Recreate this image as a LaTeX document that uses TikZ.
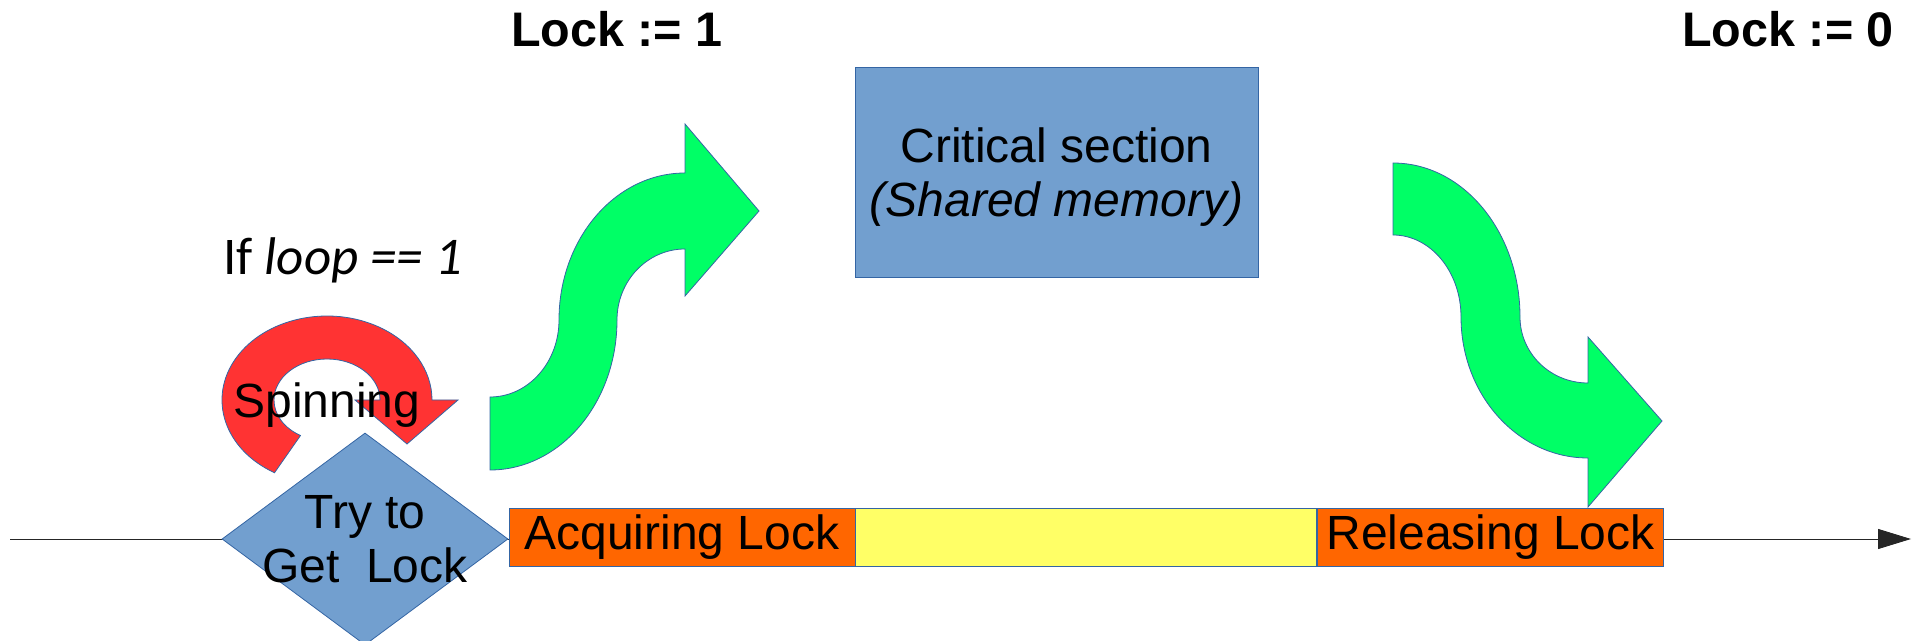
\documentclass[tikz,border=0pt]{standalone}
\usepackage{fontspec}
\setmainfont{Liberation Sans}
\newfontfamily\calfont{Carlito}
\usetikzlibrary{arrows.meta,shapes.geometric}

\definecolor{edgeblue}{RGB}{52,101,164}
\definecolor{boxblue}{RGB}{114,159,207}
\definecolor{lockorange}{RGB}{255,102,0}
\definecolor{csyellow}{RGB}{255,255,102}
\definecolor{flowgreen}{RGB}{0,255,102}
\definecolor{spinred}{RGB}{255,51,51}

\begin{document}
\begin{tikzpicture}[x=1pt,y=1pt,
  txt/.style={font=\fontsize{48}{54}\selectfont,inner sep=0pt,align=center},
  phase/.style={txt,draw=edgeblue,line width=0.8pt,minimum width=346pt,minimum height=58pt},
  decision/.style={diamond,draw=edgeblue,fill=boxblue,line width=0.8pt,inner sep=0pt,minimum width=286pt,minimum height=212pt},
  memory/.style={txt,draw=edgeblue,fill=boxblue,line width=0.8pt,minimum width=403pt,minimum height=210pt},
  flowarrow/.style={draw=edgeblue,fill=flowgreen,line width=0.8pt},
  spinarrow/.style={draw=edgeblue,fill=spinred,line width=0.8pt},
  assign/.style={font=\fontsize{48.5}{56}\selectfont\bfseries,inner sep=0pt,anchor=base west},
  timeline/.style={-{Triangle[length=33pt,width=20pt]},line width=1pt,draw=black!85,fill=black}]
\useasboundingbox (0,0) rectangle (1916,640);
\coordinate (t0) at (10,101);
\coordinate (t1) at (1911,101);
\draw[timeline] (t0) -- (t1);
\node[phase,fill=lockorange] (acq) at (682,103) {Acquiring Lock};
\node[phase,fill=csyellow,minimum width=461pt,anchor=west] (cs) at (acq.east) {};
\node[phase,fill=lockorange,anchor=west] (rel) at (cs.east) {Releasing Lock};
\node[decision] (try) at (365,101) {};
\node[txt] (trytext) at (try.center) {Try to\\Get\ \ Lock};
\node[memory] (crit) at (1056.5,468) {};
\node[txt,anchor=base] (crittext) at (1056.5,423) {Critical section\\\textit{(Shared memory)}};
\path[spinarrow] (327,240) ++(240:105 and 84)
  arc[start angle=240,end angle=0,x radius=105pt,y radius=84pt]
  -- ++(26,0) -- (407,196) -- (355,240) -- (380,240)
  arc[start angle=0,end angle=240,x radius=53pt,y radius=41pt] -- cycle;
\node[txt,anchor=base] (spin) at (327,222) {Spinning};
\path[flowarrow] (490,243)
  arc[start angle=-90,end angle=0,x radius=69pt,y radius=77pt]
  arc[start angle=180,end angle=90,x radius=126pt,y radius=147pt]
  -- (685,516) -- (759,429) -- (685,344) -- (685,391)
  arc[start angle=90,end angle=180,x radius=68pt,y radius=71pt]
  arc[start angle=0,end angle=-90,x radius=127pt,y radius=150pt] -- cycle;
\path[flowarrow] (1393,477)
  arc[start angle=90,end angle=0,x radius=127pt,y radius=154pt]
  arc[start angle=180,end angle=270,x radius=68pt,y radius=66pt]
  -- (1588,303) -- (1662,219) -- (1588,133) -- (1588,182)
  arc[start angle=270,end angle=180,x radius=127pt,y radius=141pt]
  arc[start angle=0,end angle=90,x radius=68pt,y radius=82pt] -- cycle;
\node[inner sep=0pt,anchor=base west,font=\fontsize{53}{60}\selectfont\calfont] (cond) at (223,365) {If \textit{loop == 1}};
\node[assign] (setlock) at (511,593) {Lock := 1};
\node[assign] (clearlock) at (1682,593) {Lock := 0};
\end{tikzpicture}
\end{document}
